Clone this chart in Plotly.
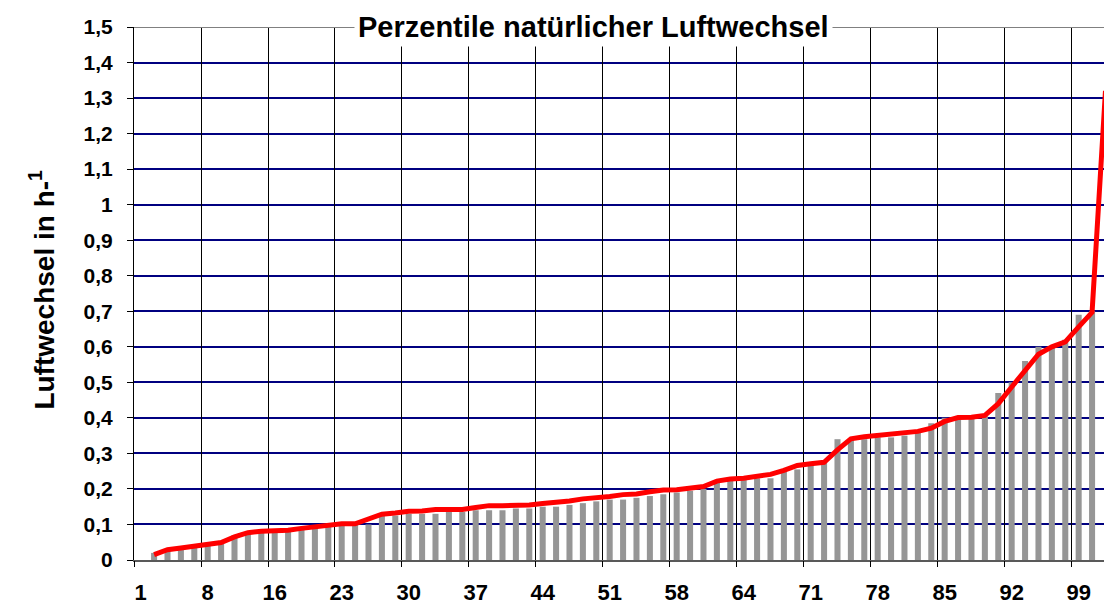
import plotly.graph_objects as go

categories = list(range(1, 74))

bar_values = [
    None, 0.02, 0.03, 0.035, 0.04, 0.045, 0.05, 0.07, 0.075, 0.08,
    0.08, 0.08, 0.085, 0.09, 0.095, 0.1, 0.1, 0.1, 0.125, 0.125,
    0.13, 0.13, 0.13, 0.135, 0.135, 0.14, 0.14, 0.14, 0.145, 0.145,
    0.15, 0.15, 0.155, 0.16, 0.165, 0.17, 0.17, 0.175, 0.18, 0.185,
    0.19, 0.195, 0.2, 0.225, 0.225, 0.225, 0.23, 0.23, 0.255, 0.255,
    0.265, 0.275, 0.34, 0.34, 0.34, 0.345, 0.345, 0.35, 0.36, 0.385,
    0.4, 0.395, 0.4, 0.405, 0.47, 0.5, 0.56, 0.6, 0.6, 0.62,
    0.69, 0.7, None,
]

line_values = [
    None, 0.015, 0.029, 0.034, 0.039, 0.044, 0.049, 0.065, 0.077, 0.081,
    0.081, 0.084, 0.089, 0.094, 0.1, 0.102, 0.102, 0.117, 0.129, 0.132,
    0.137, 0.138, 0.142, 0.142, 0.142, 0.148, 0.153, 0.153, 0.153, 0.155,
    0.159, 0.161, 0.166, 0.172, 0.174, 0.179, 0.184, 0.186, 0.192, 0.197,
    0.198, 0.202, 0.207, 0.222, 0.228, 0.23, 0.236, 0.241, 0.252, 0.266,
    0.271, 0.275, 0.31, 0.341, 0.347, 0.351, 0.352, 0.357, 0.362, 0.371,
    0.39, 0.401, 0.402, 0.407, 0.44, 0.487, 0.534, 0.579, 0.6, 0.614,
    0.656, 0.697, 1.32,
]

x_tick_positions = [1, 6, 11, 16, 21, 26, 31, 36, 41, 46, 51, 56, 61, 66, 71]
x_tick_labels = ["1", "8", "16", "23", "30", "37", "44", "51", "58", "64",
                 "71", "78", "85", "92", "99"]
x_grid_positions = [0.5 + 5 * i for i in range(15)]

y_ticks = [round(0.1 * i, 1) for i in range(16)]
y_tick_labels = ["0", "0,1", "0,2", "0,3", "0,4", "0,5", "0,6", "0,7", "0,8",
                 "0,9", "1", "1,1", "1,2", "1,3", "1,4", "1,5"]

title_text = "Perzentile natürlicher Luftwechsel"
y_title_text = "Luftwechsel in h-<sup>1</sup>"

FONT = "Arial, 'Liberation Sans', sans-serif"
x_range = [0.5, 72.89]

fig = go.Figure()
fig.add_trace(go.Bar(
    x=categories, y=bar_values, width=0.45,
    marker=dict(color="#969696", line=dict(width=0)),
    hoverinfo="skip",
))
fig.add_trace(go.Scatter(
    x=categories, y=line_values, mode="lines",
    line=dict(color="#FF0000", width=5),
    hoverinfo="skip",
))
# dummy trace to instantiate the grid axis
fig.add_trace(go.Scatter(x=[None], y=[None], xaxis="x2", showlegend=False))

fig.update_layout(
    width=1104, height=609,
    margin=dict(l=134, r=0, t=27, b=49),
    plot_bgcolor="white", paper_bgcolor="white",
    showlegend=False,
    font=dict(family=FONT, color="black"),
    xaxis=dict(
        range=x_range, tickmode="array", tickvals=x_tick_positions,
        ticktext=x_tick_labels, showgrid=False, zeroline=False,
        ticks="", showline=True, linecolor="#595959", linewidth=2,
        tickfont=dict(family=FONT, size=22, weight="bold", color="black"),
        ticklabelstandoff=12,
    ),
    xaxis2=dict(
        range=x_range, overlaying="x", side="bottom", tickmode="array",
        tickvals=x_grid_positions, showticklabels=False, showgrid=True,
        gridcolor="#000000", gridwidth=1, ticks="outside", ticklen=6,
        tickcolor="#000000", zeroline=False, showline=False,
    ),
    yaxis=dict(
        range=[0, 1.5], tickmode="array", tickvals=y_ticks,
        ticktext=y_tick_labels, showgrid=True, gridcolor="#000080",
        gridwidth=2, zeroline=False, ticks="outside", ticklen=6,
        tickcolor="black", showline=True, linecolor="black", linewidth=1,
        tickfont=dict(family=FONT, size=21, weight="bold", color="black"),
        ticklabelstandoff=10,
    ),
)

fig.add_shape(type="line", xref="paper", yref="y", x0=0, x1=1, y0=1.5, y1=1.5,
              line=dict(color="#808080", width=2), layer="above")

fig.add_annotation(
    text=title_text, xref="paper", yref="y", x=0.474, y=1.5,
    xanchor="center", yanchor="middle", showarrow=False,
    bgcolor="white", borderpad=3,
    font=dict(family=FONT, size=29, weight="bold", color="black"),
)
fig.add_annotation(
    text=y_title_text, xref="paper", yref="paper", x=-0.095, y=0.507,
    xanchor="center", yanchor="middle", showarrow=False, textangle=-90,
    font=dict(family=FONT, size=28, weight="bold", color="black"),
)

fig.write_html(
    "out.html",
    config={"displayModeBar": False},
    post_script="document.body.style.margin='0';document.body.style.overflow='hidden';",
)
